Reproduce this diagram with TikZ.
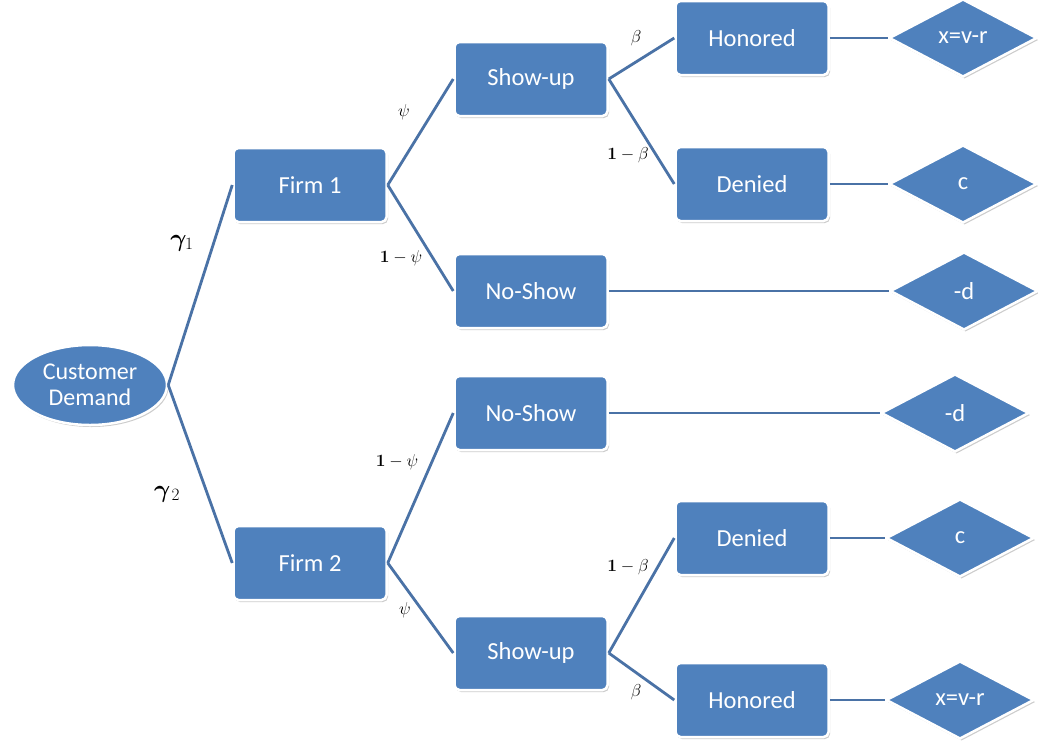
\documentclass[tikz,border=0pt]{standalone}
\usepackage[no-math]{fontspec}
\setmainfont{Carlito}
\usepackage{bm}
\usetikzlibrary{shapes.geometric,shadows}
\definecolor{boxblue}{RGB}{79,129,189}
\definecolor{linkblue}{RGB}{74,114,166}
\tikzset{
  base/.style={fill=boxblue, draw=white, line width=2.5pt, text=white,
    font=\fontsize{24.5}{28}\selectfont,
    drop shadow={shadow xshift=1.5pt, shadow yshift=-2pt, opacity=0.4, fill=gray}},
  stepbox/.style={base, rectangle, rounded corners=5pt, minimum width=153pt, minimum height=74pt, inner sep=0pt},
  payoff/.style={base, diamond, minimum width=148pt, minimum height=78pt, inner sep=0pt},
  root/.style={base, ellipse, minimum width=154pt, minimum height=80pt, inner sep=0pt, align=center, font=\fontsize{24}{26}\selectfont},
  link/.style={draw=linkblue, line width=2.8pt},
  prob/.style={font=\fontsize{17}{19}\selectfont, inner sep=1pt},
  gam/.style={font=\fontsize{25}{27}\selectfont, inner sep=1pt}
}
\begin{document}
\begin{tikzpicture}[x=1pt,y=-1pt]
\useasboundingbox (0,0) rectangle (1038,748);
\fill[white] (0,0) rectangle (1038,748);
% nodes
\node[root] (cd) at (90,385) {Customer\\Demand};
\node[stepbox] (f1) at (310,185) {Firm 1};
\node[stepbox] (f2) at (310,563) {Firm 2};
\node[stepbox] (su1) at (531,79) {Show-up};
\node[stepbox] (ns1) at (531,291) {No-Show};
\node[stepbox] (ns2) at (531,413) {No-Show};
\node[stepbox] (su2) at (531,653) {Show-up};
\node[stepbox] (h1) at (752,38) {Honored};
\node[stepbox] (d1) at (752,184) {Denied};
\node[stepbox] (d2) at (752,538) {Denied};
\node[stepbox] (h2) at (752,700) {Honored};
\node[payoff] (v1) at (963,38) {x=v-r};
\node[payoff] (c1) at (963,184) {c};
\node[payoff] (m1) at (964,291) {-d};
\node[payoff] (m2) at (955,413) {-d};
\node[payoff] (c2) at (960,538) {c};
\node[payoff] (v2) at (960,700) {x=v-r};
% connectors
\draw[link] (cd.east) -- (f1.west);
\draw[link] (cd.east) -- (f2.west);
\draw[link] (f1.east) -- (su1.west);
\draw[link] (f1.east) -- (ns1.west);
\draw[link] (f2.east) -- (ns2.west);
\draw[link] (f2.east) -- (su2.west);
\draw[link] (su1.east) -- (h1.west);
\draw[link] (su1.east) -- (d1.west);
\draw[link] (su2.east) -- (d2.west);
\draw[link] (su2.east) -- (h2.west);
\draw[link] (h1.east) -- (v1.west);
\draw[link] (d1.east) -- (c1.west);
\draw[link] (ns1.east) -- (m1.west);
\draw[link] (ns2.east) -- (m2.west);
\draw[link] (d2.east) -- (c2.west);
\draw[link] (h2.east) -- (v2.west);
% labels
\node[gam] (g1) at (182,243) {$\bm{\gamma}_1$};
\node[gam] (g2) at (167,494) {$\bm{\gamma}_{\,2}$};
\node[prob] (p1) at (404,112) {$\psi$};
\node[prob] (p2) at (401,258) {$\bm{1}-\psi$};
\node[prob] (b1) at (636,38) {$\beta$};
\node[prob] (b2) at (628,155) {$\bm{1}-\beta$};
\node[prob] (p3) at (397,462) {$\bm{1}-\psi$};
\node[prob] (p4) at (405,610) {$\psi$};
\node[prob] (b3) at (628,567) {$\bm{1}-\beta$};
\node[prob] (b4) at (636,692) {$\beta$};
\end{tikzpicture}
\end{document}
